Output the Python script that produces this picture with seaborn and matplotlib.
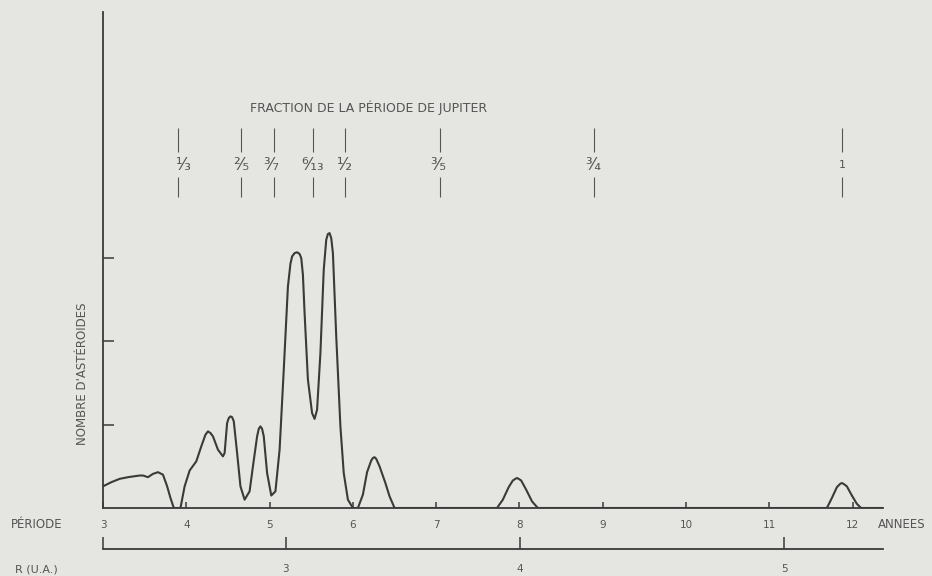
import numpy as np
import seaborn as sns
import matplotlib.pyplot as plt

# periode (annees) et nombre d'asteroides (unites d'un trait de l'axe vertical)
periode = [3.00, 3.10, 3.20, 3.30, 3.44, 3.48, 3.54, 3.60, 3.66, 3.72, 3.77, 3.81, 3.85,
           3.93, 3.98, 4.04, 4.12, 4.18, 4.23, 4.26, 4.29, 4.32, 4.38, 4.44, 4.46, 4.49,
           4.51, 4.53, 4.55, 4.57, 4.61, 4.65, 4.70, 4.76, 4.80, 4.85, 4.87, 4.89, 4.91,
           4.93, 4.97, 5.02, 5.07, 5.12, 5.17, 5.22, 5.25, 5.27, 5.30, 5.33, 5.36, 5.38,
           5.40, 5.42, 5.46, 5.51, 5.54, 5.57, 5.61, 5.65, 5.68, 5.70, 5.72, 5.74, 5.76,
           5.80, 5.85, 5.89, 5.94, 6.00, 6.06, 6.12, 6.17, 6.22, 6.24, 6.26, 6.28, 6.32,
           6.39, 6.44, 6.50, 7.73, 7.80, 7.87, 7.92, 7.95, 7.97, 7.99, 8.02, 8.08, 8.15,
           8.22, 11.69, 11.75, 11.81, 11.85, 11.87, 11.89, 11.93, 11.99, 12.05, 12.10,
           12.36]
nombre = [0.26, 0.31, 0.35, 0.37, 0.39, 0.39, 0.37, 0.41, 0.43, 0.40, 0.26, 0.12, 0.00,
          0.00, 0.26, 0.45, 0.56, 0.74, 0.88, 0.92, 0.90, 0.86, 0.70, 0.62, 0.66, 1.02,
          1.08, 1.10, 1.09, 1.04, 0.66, 0.26, 0.10, 0.20, 0.50, 0.86, 0.95, 0.98, 0.95,
          0.86, 0.42, 0.15, 0.20, 0.70, 1.66, 2.66, 2.93, 3.02, 3.06, 3.07, 3.05, 3.00,
          2.80, 2.34, 1.54, 1.14, 1.07, 1.18, 1.86, 2.86, 3.22, 3.29, 3.30, 3.24, 3.06,
          2.06, 0.98, 0.42, 0.10, 0.00, 0.00, 0.16, 0.43, 0.57, 0.60, 0.61, 0.59, 0.50,
          0.30, 0.14, 0.00, 0.00, 0.10, 0.25, 0.33, 0.35, 0.36, 0.35, 0.33, 0.22, 0.08,
          0.00, 0.00, 0.12, 0.25, 0.29, 0.30, 0.29, 0.26, 0.15, 0.05, 0.00, 0.00]

# resonances avec Jupiter
res_periode = [3.90, 4.66, 5.05, 5.52, 5.91, 7.05, 8.89, 11.87]
res_label = ['¹⁄₃', '²⁄₅', '³⁄₇', '⁶⁄₁₃', '¹⁄₂', '³⁄₅', '³⁄₄', '1']
res_decal = [0.07, 0.0, -0.03, 0.0, 0.0, -0.02, 0.0, 0.0]

annees = list(range(3, 13))
rayons = [3, 4, 5]

fond = '#e5e5e1'
encre = '#3a3a3a'
texte = '#555555'

sns.set_theme(style='ticks')
plt.rcParams['font.family'] = ['DejaVu Sans']

fig = plt.figure(figsize=(9.32, 5.76), dpi=100, facecolor=fond)
ax = fig.add_axes([103 / 932, 68 / 576, 780 / 932, 496 / 576], facecolor=fond)

sns.lineplot(x=periode, y=nombre, ax=ax, color=encre, lw=1.5, sort=False)

ax.set_xlim(3, 3 + 780 / 83.3)
ax.set_ylim(0, 496 / 83.3)
sns.despine(ax=ax)
for s in ['left', 'bottom']:
    ax.spines[s].set_color(encre)
    ax.spines[s].set_linewidth(1.3)

ax.set_xticks(annees, labels=[str(a) for a in annees])
ax.tick_params(axis='x', direction='in', length=4, width=1.1, color=encre,
               labelsize=7.5, labelcolor=texte, pad=9)
ax.set_yticks([1, 2, 3], labels=[])
ax.tick_params(axis='y', direction='in', length=8, width=1.1, color=encre)
ax.set_xlabel('')
ax.set_ylabel("NOMBRE D'ASTÉROIDES", fontsize=8.5, color=texte)
ax.yaxis.set_label_coords(-0.018, 0.27)

# echelle des rayons (3e loi de Kepler)
sec = ax.secondary_xaxis(-41 / 496, functions=(lambda p: np.cbrt(p) ** 2,
                                                lambda r: np.abs(r) ** 1.5))
sec.set_xticks([3 ** (2 / 3)] + rayons, labels=[''] + [str(r) for r in rayons])
sec.tick_params(axis='x', direction='in', length=9, width=1.1, color=encre,
                labelsize=7.5, labelcolor=texte, pad=11)
sec.spines['bottom'].set_color(encre)
sec.spines['bottom'].set_linewidth(1.3)

# traits des resonances
for p, lab, d in zip(res_periode, res_label, res_decal):
    ax.vlines(p, 4.27, 4.56, color=texte, lw=0.8)
    ax.vlines(p, 3.73, 3.97, color=texte, lw=0.8)
    fs = 8 if lab == '1' else 12
    ax.text(p + d, 4.12, lab, ha='center', va='center', fontsize=fs, color=texte)

ax.text(6.19, 4.81, 'FRACTION DE LA PÉRIODE DE JUPITER', ha='center', va='center',
        fontsize=9, color=texte)

fig.text(11 / 932, 1 - 524 / 576, 'PÉRIODE', ha='left', va='center', fontsize=8.5, color=texte)
fig.text(878 / 932, 1 - 524 / 576, 'ANNEES', ha='left', va='center', fontsize=8.5, color=texte)
fig.text(15 / 932, 1 - 570 / 576, 'R (U.A.)', ha='left', va='center', fontsize=8, color=texte)

fig.savefig('out.png', dpi=100, facecolor=fond)
